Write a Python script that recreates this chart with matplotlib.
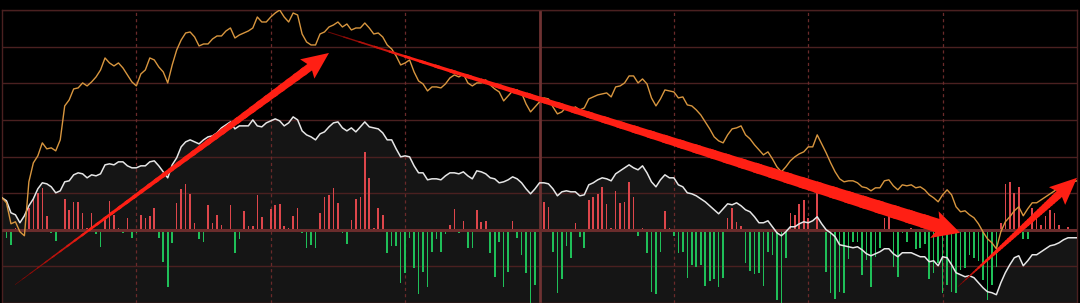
import numpy as np
import matplotlib
matplotlib.use('Agg')
import matplotlib.pyplot as plt
from matplotlib.patches import Polygon

# intraday chart, 241 minutes (09:30 - 15:00), values = height above zero line
orange = [32, 27, 6, 8, -2, -6, 48, 67, 74, 87,
          81, 82, 79, 90, 124, 130, 141, 142, 147, 144,
          148, 153, 160, 172, 167, 164, 167, 162, 155, 148,
          144, 156, 160, 172, 170, 163, 158, 147, 165, 180,
          190, 197, 198, 193, 184, 186, 186, 191, 194, 194,
          199, 202, 192, 195, 197, 199, 202, 213, 208, 208,
          213, 217, 220, 213, 208, 217, 215, 196, 188, 185,
          185, 196, 198, 203, 205, 208, 203, 206, 200, 202,
          202, 207, 202, 196, 197, 193, 185, 181, 174, 165,
          167, 170, 158, 149, 146, 139, 143, 143, 142, 146,
          152, 155, 153, 156, 147, 144, 147, 147, 150, 145,
          141, 138, 129, 134, 139, 140, 137, 126, 118, 123,
          128, 132, 131, 123, 116, 118, 123, 120, 123, 120,
          122, 131, 133, 135, 136, 137, 133, 143, 144, 147,
          154, 154, 147, 151, 146, 132, 124, 131, 140, 139,
          138, 132, 133, 125, 124, 120, 115, 108, 101, 93,
          89, 87, 95, 101, 102, 104, 95, 91, 85, 80,
          75, 78, 71, 63, 58, 63, 69, 73, 76, 78,
          83, 83, 95, 86, 77, 67, 58, 51, 48, 49,
          49, 47, 43, 42, 39, 42, 42, 49, 50, 44,
          40, 45, 44, 45, 42, 43, 40, 35, 32, 28,
          35, 40, 35, 23, 18, 19, 15, 12, 6, -2,
          -9, -13, -19, -2, 8, 13, 19, 23, 14, 21,
          27, 27, 30, 33, 36, 39, 43, 45, 47, 48, 49]

white = [32, 29, 17, 15, 7, 14, 24, 31, 41, 47,
         46, 43, 37, 39, 48, 49, 55, 57, 56, 52,
         55, 54, 56, 65, 66, 65, 68, 68, 64, 62,
         62, 64, 64, 68, 69, 64, 58, 52, 65, 72,
         83, 88, 90, 88, 86, 90, 93, 94, 97, 102,
         105, 108, 101, 104, 104, 104, 110, 104, 103, 107,
         109, 111, 109, 104, 107, 113, 110, 99, 95, 93,
         90, 96, 98, 103, 107, 108, 102, 99, 102, 98,
         103, 108, 103, 102, 101, 97, 90, 90, 81, 73,
         74, 73, 64, 57, 57, 50, 51, 51, 50, 54,
         57, 57, 56, 58, 54, 51, 59, 58, 56, 52,
         51, 47, 48, 50, 53, 51, 47, 41, 36, 41,
         47, 47, 46, 41, 34, 38, 39, 38, 38, 34,
         35, 45, 47, 50, 52, 51, 49, 56, 59, 62,
         65, 62, 60, 64, 57, 48, 43, 50, 55, 52,
         52, 45, 43, 37, 36, 34, 31, 28, 24, 20,
         16, 21, 26, 25, 27, 24, 20, 18, 13, 7,
         7, 9, 3, -3, -6, -2, 3, 3, 6, 8,
         7, 9, 13, 6, 0, -3, -7, -15, -16, -17,
         -18, -17, -20, -24, -26, -24, -22, -19, -19, -24,
         -27, -23, -23, -23, -25, -27, -27, -32, -31, -36,
         -27, -28, -35, -43, -45, -47, -46, -48, -53, -58,
         -62, -63, -65, -53, -43, -35, -28, -26, -36, -31,
         -25, -25, -22, -19, -16, -15, -13, -10, -8, -8, -8]

flow = [0, -8, -15, 2, 0, 0, 22, 31, 37, 42,
        14, -3, -11, 0, 31, 20, 28, 28, 17, 2,
        17, -4, -17, 13, 29, 15, 2, -3, 12, -8,
        -3, 15, 12, 14, 22, -8, -32, -57, -13, 27,
        41, 46, 36, 7, -9, -12, 25, 7, 15, 5,
        -1, 25, -23, -9, 19, 4, 4, 35, 13, 0,
        21, 25, 26, 4, 2, 14, 22, -3, -18, -15,
        -18, 17, 33, 35, 42, 27, -3, -14, 10, 31,
        33, 78, 52, 2, 22, 15, -23, -16, -16, -53,
        -43, -8, -38, -64, -42, -57, -22, -9, -22, -4,
        5, 21, -3, 9, -18, -18, 20, 8, 9, -23,
        -47, -12, -57, -42, 9, -8, -25, -43, -73, -55,
        0, 28, 23, -22, -63, -49, -16, -28, 7, -7,
        -18, 30, 33, 36, 43, 26, 2, 39, 27, 28,
        48, 33, -6, 2, -23, -62, -64, -22, 19, 2,
        -6, -23, -22, -48, -35, -37, -35, -56, -51, -49,
        -57, -48, 12, 22, 8, 4, -33, -41, -44, -43,
        -56, -22, -25, -70, -73, -28, 17, 15, 26, 30,
        12, 1, 38, -1, -42, -63, -69, -62, -63, -29,
        -12, -12, -45, -30, -57, -27, -18, 12, 14, -37,
        -47, -3, -12, 2, -19, -18, -14, -49, -43, -33,
        -63, -55, -62, -63, -40, -38, -25, -28, -31, -50,
        -70, -55, -37, 7, 46, 48, 37, 43, -9, -9,
        22, 12, 5, 14, 20, 17, 5, 0, 3, 0, 0]

# annotation arrows: tail, tip (minute, value)
arrow_tails = [(2.9, -55), (72.8, 198), (213.4, -57)]
arrow_tips = [(73.0, 177), (213.9, -3), (240.0, 52)]

minutes = np.arange(len(orange))
flow = np.array(flow)

fig = plt.figure(figsize=(10.8, 3.03), dpi=100, facecolor='black')
ax = fig.add_axes([2/1080, 0, 1075/1080, 293/303])
ax.set_facecolor('black')
ax.set_xlim(0, 240)
ax.set_ylim(-73.3, 220)

# dark area under the white line
ax.fill_between(minutes, white, -80, color='#151515', lw=0, zorder=1)

for k in range(-2, 7):
	ax.axhline(k*36.67, color='#4a2020', lw=1, zorder=2)
ax.axhline(0, color='#6a2c2c', lw=2.2, zorder=4)
for xv in [30, 60, 90, 150, 180, 210]:
	ax.axvline(xv, color='#6a2a2a', lw=0.9, ls=(0, (2.5, 2.5)), zorder=2)
ax.axvline(120, color='#6e3232', lw=2, zorder=2)

cols = np.where(flow > 0, '#dd464b', '#1fbf58')
ax.bar(minutes, flow, width=0.36, color=cols, zorder=3)

ax.plot(minutes, white, color='#e6e6e6', lw=1.1, zorder=5)
ax.plot(minutes, orange, color='#d8963f', lw=1.0, zorder=5)

for s in ax.spines.values():
	s.set_color('#4a2020')
	s.set_linewidth(1)
ax.set_xticks([])
ax.set_yticks([])


def arrow(tail, tip, w0, w1, hw, hl, fade):
	# tapered shaft (dark at the thin end) + head, built in pixels
	p0 = ax.transData.transform(tail)
	p1 = ax.transData.transform(tip)
	d = (p1 - p0) / np.hypot(*(p1 - p0))
	n = np.array([-d[1], d[0]])
	base = p1 - d*hl
	inv = ax.transData.inverted()
	dark = np.array([0.45, 0.03, 0.02])
	red = np.array([1.0, 0.12, 0.08])
	nseg = 40
	for i in range(nseg):
		f0, f1 = i/nseg, (i+1)/nseg
		a = p0 + (base - p0)*f0
		b = p0 + (base - p0)*(f1 + 0.01)
		wa = w0 + (w1 - w0)*f0
		wb = w0 + (w1 - w0)*f1
		c = dark + (red - dark)*min(1, f0/fade)
		q = [a + n*wa/2, b + n*wb/2, b - n*wb/2, a - n*wa/2]
		ax.add_patch(Polygon(inv.transform(np.array(q)), closed=True,
		                     fc=c, ec='none', zorder=10))
	head = [base + n*w1/2, base - d*3 + n*hw/2, p1, base - d*3 - n*hw/2,
	        base - n*w1/2]
	ax.add_patch(Polygon(inv.transform(np.array(head)), closed=True,
	                     fc=red, ec='none', zorder=10))


arrow(arrow_tails[0], arrow_tips[0], 0.5, 8, 24, 24, 0.25)
arrow(arrow_tails[1], arrow_tips[1], 0.9, 14, 28, 24, 0.12)
arrow(arrow_tails[2], arrow_tips[2], 0.5, 8, 24, 24, 0.25)

fig.savefig('out.png', dpi=100, facecolor='black')
